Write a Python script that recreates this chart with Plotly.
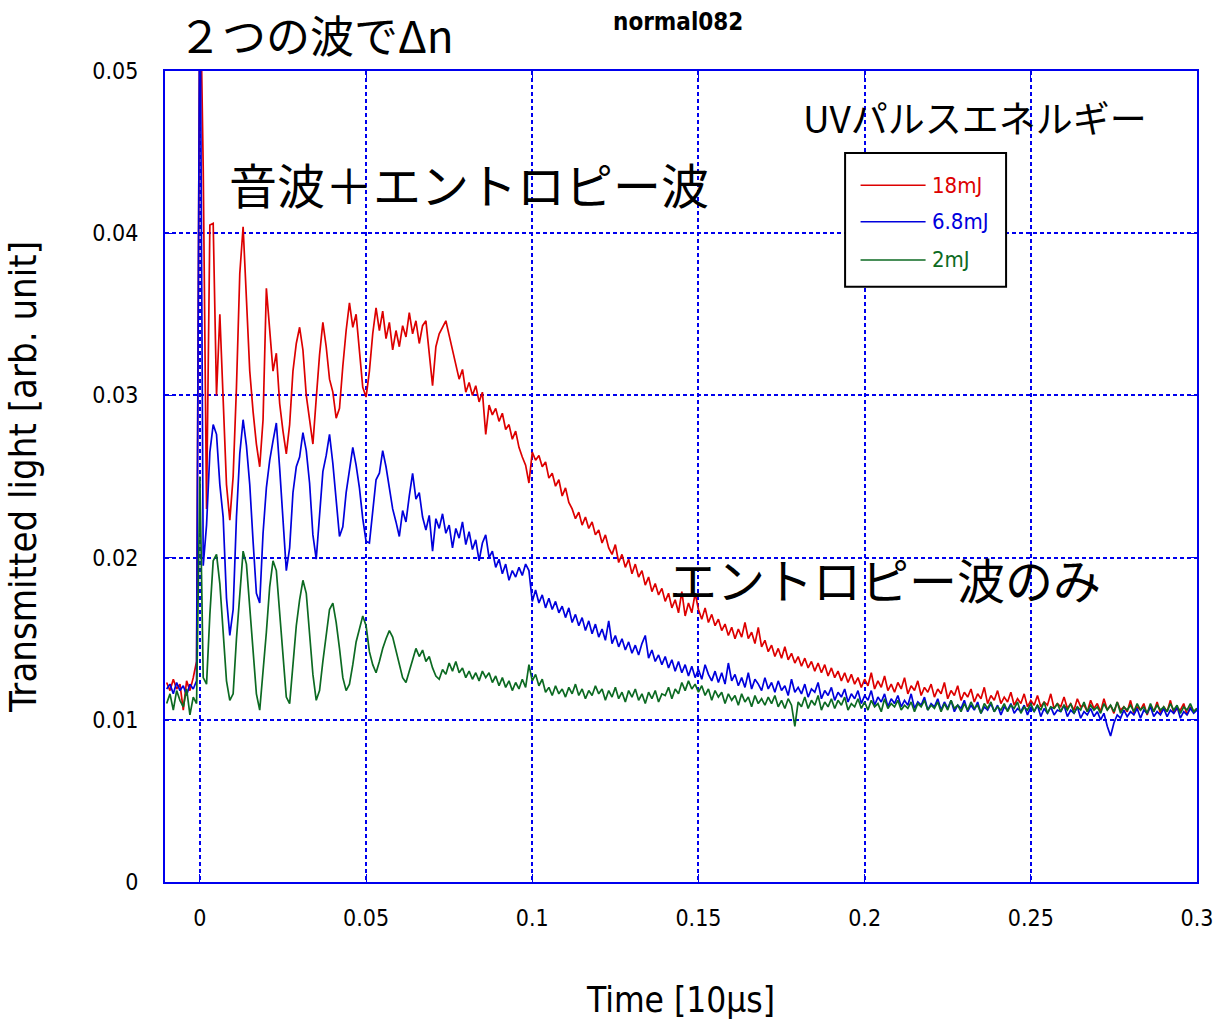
import numpy as np
import plotly.graph_objects as go

# Sample times in units of 10 us (one sample every 0.001)
t_start = -0.010
t_step = 0.001
n_samples = 311
time = np.round(t_start + t_step * np.arange(n_samples), 4)

# Transmitted light, in units of 1e-3 (arb. unit)
red_18mJ = [
    12.3, 11.8, 12.5, 11.9, 12.2, 10.6, 12.4, 11.8, 12.6, 13.6,
    57.0, 44.0, 23.0, 40.5, 40.6, 30.0, 35.0, 29.5, 24.5, 22.3,
    25.0, 30.5, 37.5, 40.4, 36.0, 31.5, 29.0, 27.0, 25.6, 28.5,
    36.6, 34.0, 31.5, 32.6, 29.5, 27.8, 26.4, 28.2, 31.5, 33.2,
    34.2, 32.8, 30.0, 28.5, 27.0, 29.8, 32.5, 34.5, 33.0, 31.0,
    30.2, 28.6, 29.2, 31.8, 34.0, 35.7, 34.2, 35.0, 32.5, 30.5,
    29.9, 31.5, 33.8, 35.4, 34.0, 35.2, 33.5, 34.5, 32.8, 34.0,
    33.0, 34.3, 33.6, 35.1, 33.8, 34.6, 33.2, 34.3, 34.6, 32.5,
    30.6, 33.0, 33.8, 34.2, 34.6, 33.7, 32.8, 32.0, 31.0, 31.6,
    30.2, 30.8, 30.0, 30.6, 29.6, 30.2, 27.6, 29.4, 28.8, 29.2,
    28.4, 28.9, 27.9, 28.2, 27.3, 27.8, 26.8, 26.2, 25.7, 24.6,
    26.5, 26.0, 26.3, 25.6, 25.9, 24.9, 25.2, 24.4, 24.8, 23.8,
    24.3, 23.4, 23.0, 22.4, 22.8, 22.0, 22.5, 21.8, 22.2, 21.4,
    21.7, 20.9, 21.4, 20.6, 20.2, 20.8, 19.7, 20.2, 19.4, 19.9,
    19.0, 19.6, 18.8, 19.2, 18.3, 18.8, 17.9, 18.4, 17.7, 18.1,
    17.3, 17.8, 16.9, 17.4, 16.6, 17.9, 16.4, 17.2, 16.6, 17.8,
    16.8, 16.2, 16.9, 16.0, 16.5, 15.8, 16.2, 15.5, 15.9, 15.2,
    15.7, 15.0, 15.6, 15.1, 16.0, 15.0, 15.4, 14.7, 15.7, 14.5,
    14.9, 14.2, 14.6, 13.9, 14.4, 13.8, 14.5, 13.7, 14.1, 13.5,
    13.9, 13.3, 13.8, 13.2, 13.6, 13.0, 13.5, 12.9, 13.4, 12.7,
    13.2, 12.6, 13.0, 12.4, 12.9, 12.3, 12.8, 12.2, 12.6, 12.0,
    12.5, 12.1, 12.9, 11.9, 12.4, 12.0, 12.7, 11.8, 12.2, 11.7,
    12.3, 11.9, 12.6, 11.6, 12.1, 11.8, 12.4, 11.5, 12.0, 11.7,
    12.2, 11.4, 11.9, 11.6, 12.3, 11.3, 11.8, 11.5, 12.1, 11.2,
    11.7, 11.4, 11.9, 11.1, 11.6, 11.3, 12.0, 11.0, 11.5, 11.2,
    11.8, 11.0, 11.4, 11.1, 11.7, 10.9, 11.3, 11.0, 11.6, 10.8,
    11.2, 10.9, 11.5, 10.8, 11.1, 10.9, 11.6, 10.7, 11.0, 10.8,
    11.4, 10.7, 11.0, 10.6, 11.3, 10.8, 10.9, 10.5, 11.2, 10.7,
    11.0, 10.5, 11.3, 10.6, 10.9, 10.4, 11.1, 10.6, 10.8, 10.5,
    11.2, 10.4, 10.8, 10.6, 11.0, 10.3, 10.9, 10.5, 11.1, 10.4,
    10.8, 10.5, 11.2, 10.4, 10.7, 10.6, 11.0, 10.3, 10.8, 10.5,
    10.7,
]

blue_6_8mJ = [
    11.9, 12.2, 11.6, 12.3, 11.8, 12.1, 11.5, 12.2, 11.9, 12.4,
    58.0, 19.5, 22.0, 26.5, 28.2, 27.6, 24.5, 22.5, 17.5, 15.2,
    16.8, 22.5, 26.4, 28.5, 26.9, 24.5, 21.0, 17.8, 17.2, 21.5,
    24.3, 26.0, 27.2, 28.3, 25.5, 22.6, 19.2, 20.6, 24.0, 25.6,
    26.2, 27.7, 26.6, 24.6, 21.4, 19.9, 22.5, 25.3, 26.3, 27.6,
    25.8, 23.4, 21.3, 21.9, 24.0, 25.4, 26.8, 25.7, 24.3, 22.4,
    21.0, 20.9, 22.8, 24.8, 25.2, 26.6, 25.6, 24.2, 23.0, 22.2,
    21.3, 22.9, 22.2, 23.8, 25.2, 23.6, 24.0, 22.5, 21.7, 22.6,
    20.4, 22.4, 21.8, 22.7, 21.5, 22.0, 20.6, 21.8, 21.2, 22.2,
    20.8, 21.6, 20.5, 21.1, 19.8, 20.9, 21.4, 20.0, 20.4, 19.4,
    19.9, 19.0, 19.6, 18.6, 19.2, 18.8, 19.4, 18.9, 19.6, 19.2,
    17.3, 18.0, 17.2, 17.7, 16.9, 17.5, 16.8, 17.3, 16.6, 17.0,
    16.3, 16.9, 16.0, 16.5, 15.8, 16.3, 15.5, 16.1, 15.3, 15.9,
    15.1, 15.6, 14.9, 16.1, 14.7, 15.2, 14.5, 15.0, 14.3, 14.8,
    14.1, 14.6, 14.0, 14.7, 15.2, 13.8, 14.3, 13.6, 14.0, 13.4,
    13.9, 13.2, 13.7, 13.0, 13.6, 12.9, 13.4, 12.7, 13.3, 12.6,
    13.1, 12.5, 13.4, 12.8, 12.4, 13.0, 12.3, 12.9, 12.2, 13.5,
    12.4, 12.8, 12.1, 12.6, 12.0, 12.9, 11.9, 12.5, 12.2, 11.8,
    12.6, 11.9, 12.3, 11.7, 12.4, 11.8, 12.1, 11.5, 12.5, 11.7,
    12.0, 11.6, 12.2, 11.4, 11.9, 11.7, 12.3, 11.3, 11.8, 11.5,
    12.0, 11.2, 11.7, 11.4, 11.9, 11.1, 11.6, 11.3, 11.8, 11.0,
    11.5, 11.2, 11.8, 10.9, 11.4, 11.1, 11.6, 10.8, 11.3, 11.0,
    11.5, 10.8, 11.2, 10.9, 11.6, 10.7, 11.1, 10.9, 11.4, 10.6,
    11.0, 10.8, 11.3, 10.6, 11.1, 10.7, 11.2, 10.5, 10.9, 10.7,
    11.2, 10.5, 10.9, 10.6, 11.1, 10.4, 10.8, 10.6, 11.0, 10.5,
    10.9, 10.3, 10.8, 10.6, 11.0, 10.4, 10.7, 10.5, 10.9, 10.3,
    10.8, 10.5, 10.9, 10.2, 10.7, 10.4, 10.8, 10.3, 10.6, 10.5,
    10.9, 10.2, 10.6, 10.4, 10.8, 10.1, 10.5, 10.3, 10.7, 10.2,
    10.5, 10.0, 10.4, 9.6, 9.0, 9.8, 10.3, 10.1, 10.6, 10.2,
    10.5, 10.3, 10.7, 10.1, 10.6, 10.4, 10.8, 10.2, 10.5, 10.3,
    10.7, 10.2, 10.6, 10.4, 10.8, 10.1, 10.5, 10.3, 10.7, 10.4,
    10.6,
]

green_2mJ = [
    11.0, 11.6, 10.6, 11.8, 11.2, 10.8, 11.9, 10.3, 11.4, 11.0,
    25.0, 12.6, 12.2, 16.5, 19.8, 20.2, 18.4, 15.6, 12.4, 11.2,
    11.6, 15.0, 17.8, 20.4, 19.6, 16.8, 14.0, 11.6, 10.6, 12.8,
    15.4, 18.2, 19.8, 19.2, 16.4, 13.6, 11.4, 11.0, 13.2, 15.8,
    17.4, 18.6, 17.8, 15.2, 12.8, 11.2, 11.8, 13.6, 15.4, 16.8,
    17.2, 16.0, 14.4, 12.6, 11.8, 12.2, 13.4, 14.8, 15.6, 16.4,
    15.8, 14.2, 13.4, 12.9, 13.6, 14.4, 15.0, 15.5, 15.1, 14.2,
    13.4, 12.6, 12.3, 13.0, 13.8, 14.4, 13.9, 14.3, 13.6, 13.9,
    13.2, 12.7, 12.5, 13.1, 12.8, 13.5, 13.0, 13.6, 12.9, 13.2,
    12.6, 13.0, 12.5, 12.9, 12.4, 13.0, 12.6, 12.9, 12.3, 12.7,
    12.1, 12.6, 12.0, 12.4, 11.8, 12.3, 11.9, 12.5, 12.0, 13.4,
    12.4, 12.8, 12.1, 12.5, 11.7, 12.0, 11.5, 12.1, 11.6, 11.9,
    11.4, 12.0, 11.6, 12.2, 11.5, 11.9, 11.3, 11.8, 11.5, 12.1,
    11.6, 11.9, 11.2, 11.8, 11.4, 12.0, 11.3, 11.7, 11.1, 11.8,
    11.4, 11.9, 11.2, 11.6, 11.0, 11.7, 11.3, 11.8, 11.1, 11.6,
    11.5, 12.0, 11.3, 11.9, 11.6, 12.3, 11.8, 12.4, 11.9, 12.2,
    11.7, 12.1, 11.5, 11.9, 11.2, 11.8, 11.4, 11.7, 11.0, 11.6,
    11.2, 11.5, 10.9, 11.6, 11.1, 11.4, 10.8, 11.5, 11.0, 11.3,
    10.9, 11.4, 11.0, 11.5, 10.8, 11.2, 10.7, 11.3, 10.9, 9.6,
    11.1, 10.8, 11.4, 10.7, 11.2, 10.9, 11.5, 10.6, 11.1, 10.8,
    11.3, 10.7, 11.2, 10.9, 11.4, 10.6, 11.0, 10.8, 11.3, 10.7,
    11.1, 10.6, 11.2, 10.8, 11.0, 10.5, 11.3, 10.7, 11.0, 10.8,
    11.2, 10.6, 10.9, 10.7, 11.1, 10.5, 11.0, 10.8, 11.2, 10.6,
    10.9, 10.7, 11.1, 10.5, 11.0, 10.6, 11.2, 10.7, 10.9, 10.5,
    11.0, 10.6, 11.1, 10.7, 10.9, 10.4, 11.0, 10.7, 11.1, 10.5,
    10.8, 10.6, 11.0, 10.5, 10.9, 10.7, 11.1, 10.4, 10.8, 10.6,
    11.0, 10.5, 10.9, 10.6, 11.1, 10.4, 10.8, 10.7, 11.0, 10.5,
    10.9, 10.6, 11.0, 10.4, 10.8, 10.6, 11.1, 10.5, 10.9, 10.6,
    10.8, 10.4, 11.0, 10.6, 10.9, 10.5, 11.1, 10.4, 10.8, 10.6,
    10.9, 10.5, 11.0, 10.6, 10.8, 10.4, 11.0, 10.5, 10.9, 10.6,
    10.8, 10.5, 11.0, 10.6, 10.9, 10.4, 10.8, 10.6, 11.0, 10.5,
    10.7,
]

series_names = ["18mJ", "6.8mJ", "2mJ"]
series_colors = ["#dd0000", "#0000dd", "#0c6a22"]
series_values = [red_18mJ, blue_6_8mJ, green_2mJ]

x_ticks = [0, 0.05, 0.1, 0.15, 0.2, 0.25, 0.3]
x_ticklabels = ["0", "0.05", "0.1", "0.15", "0.2", "0.25", "0.3"]
y_ticks = [0, 0.01, 0.02, 0.03, 0.04, 0.05]
y_ticklabels = ["0", "0.01", "0.02", "0.03", "0.04", "0.05"]

NARROW = "DejaVu Sans Condensed, Liberation Sans Narrow, Arial Narrow, Liberation Sans, sans-serif"
JP = "Noto Sans CJK JP, Noto Sans, sans-serif"
AXIS_BLUE = "#0000ee"

fig = go.Figure()
for name, color, vals in zip(series_names, series_colors, series_values):
    fig.add_trace(go.Scatter(
        x=time,
        y=np.array(vals) / 1000.0,
        mode="lines",
        name=name,
        line=dict(color=color, width=1.7),
        showlegend=False,
    ))

axis_common = dict(
    showline=True, linecolor=AXIS_BLUE, linewidth=2, mirror="allticks",
    showgrid=True, gridcolor=AXIS_BLUE, gridwidth=1.5, griddash="4px,3px",
    ticks="inside", ticklen=8, tickcolor=AXIS_BLUE, tickwidth=1,
    zeroline=False, automargin=False,
    tickfont=dict(family=NARROW, size=23, color="black"),
)

fig.update_xaxes(
    range=[-0.0105, 0.3], tickvals=x_ticks, ticktext=x_ticklabels,
    ticklabelstandoff=14,
    title=dict(text="Time [10μs]", font=dict(family=NARROW, size=35, color="black"), standoff=58),
    **axis_common,
)
fig.update_yaxes(
    range=[0, 0.05], tickvals=y_ticks, ticktext=y_ticklabels,
    ticklabelstandoff=20,
    title=dict(text="Transmitted light [arb. unit]", font=dict(family=NARROW, size=38, color="black"), standoff=44),
    **axis_common,
)

# Hand-placed legend box
legend_x0, legend_x1 = 0.659, 0.815
legend_y0, legend_y1 = 0.734, 0.899
fig.add_shape(type="rect", xref="paper", yref="paper",
              x0=legend_x0, x1=legend_x1, y0=legend_y0, y1=legend_y1,
              line=dict(color="black", width=2), fillcolor="white", layer="above")
legend_rows = [0.859, 0.814, 0.767]
for name, color, yrow in zip(series_names, series_colors, legend_rows):
    fig.add_shape(type="line", xref="paper", yref="paper",
                  x0=0.674, x1=0.737, y0=yrow, y1=yrow,
                  line=dict(color=color, width=1.5), layer="above")
    fig.add_annotation(xref="paper", yref="paper", x=0.741, y=yrow,
                       text=name, showarrow=False, xanchor="left", yanchor="middle",
                       font=dict(family=NARROW, size=22, color=color))

texts = [
    ("２つの波でΔn", 0.011, 1.046, JP, 44),
    ("<b>normal082</b>", 0.432, 1.061, NARROW, 24),
    ("音波＋エントロピー波", 0.060, 0.862, JP, 48),
    ("エントロピー波のみ", 0.486, 0.375, JP, 48),
    ("UVパルスエネルギー", 0.616, 0.943, JP, 37),
]
for txt, px, py, fam, size in texts:
    fig.add_annotation(xref="paper", yref="paper", x=px, y=py, text=txt,
                       showarrow=False, xanchor="left", yanchor="middle",
                       font=dict(family=fam, size=size, color="black"))

fig.update_layout(
    width=1217, height=1030,
    margin=dict(l=165, r=20, t=71, b=148),
    paper_bgcolor="white", plot_bgcolor="white",
    showlegend=False,
)

fig.write_html("out.html")
